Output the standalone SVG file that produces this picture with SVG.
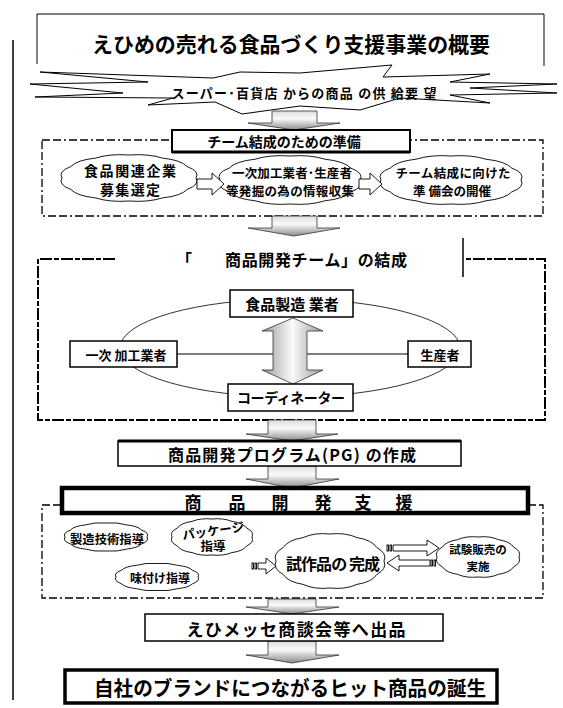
<svg xmlns="http://www.w3.org/2000/svg" width="563" height="708" viewBox="0 0 563 708">
<defs>
<style>
.t{font-family:"Noto Sans CJK JP","Liberation Sans",sans-serif;font-weight:bold;text-anchor:middle;dominant-baseline:central;fill:#000}
.ln{fill:none;stroke:#000;stroke-width:1}
.box{fill:#fff;stroke:#000;stroke-width:1.5}
.cl{fill:#fff;stroke:#000;stroke-width:0.9}
.ga{fill:url(#gv);stroke:#333;stroke-width:0.8}
.ha{fill:#fff;stroke:#000;stroke-width:0.9}
.dd{fill:none;stroke:#000;stroke-width:1.3;stroke-dasharray:8 3 8 3 2 3}
.dt{fill:none;stroke:#000;stroke-width:2;stroke-dasharray:12 2 5 2}
</style>
<linearGradient id="gv" x1="0" y1="0" x2="0" y2="1">
<stop offset="0" stop-color="#dcdcdc"/>
<stop offset="0.4" stop-color="#fafafa"/>
<stop offset="1" stop-color="#8a8a8a"/>
</linearGradient>
<linearGradient id="gh" x1="0" y1="0" x2="1" y2="0">
<stop offset="0" stop-color="#9a9a9a"/>
<stop offset="0.5" stop-color="#fbfbfb"/>
<stop offset="1" stop-color="#9a9a9a"/>
</linearGradient>
</defs>
<rect width="563" height="708" fill="#fff"/>

<line x1="13" y1="40" x2="13" y2="700" stroke="#000" stroke-width="1.5"/>

<g id="title">
<path class="ln" stroke-width="1.5" d="M37,64 V14 H544 V66"/>
<text class="t" x="291" y="43" font-size="21" textLength="398" lengthAdjust="spacingAndGlyphs">えひめの売れる食品づくり支援事業の概要</text>
</g>

<g id="demand">
<polygon fill="#fff" stroke="#000" stroke-width="1" points="40,72 213,78 240,72 300,73 392,65 383,77 490,74 450,82 557,84 470,88 557,93 450,95 490,103 400,98 360,110 300,106 242,114 215,102 148,105 173,98 35,97 123,93 30,84 148,82"/>
<text class="t" x="304" y="92" font-size="13" textLength="265" lengthAdjust="spacing">スーパー･百貨店 からの商品 の供 給要 望</text>
</g>

<g id="frames">
<rect class="dd" x="42" y="140" width="501" height="76"/>
<path class="dt" d="M115,259 H38 V420 H545 V259 H465"/>
<rect class="dd" x="42" y="505" width="501" height="93"/>
</g>

<g id="connectors">
<path class="ga" d="M272,111 H317 V123 H340 L294,130 L248,123 H272 Z"/>
<path class="ga" d="M272,216 H317 V228 H340 L294,236 L248,228 H272 Z"/>
<path class="ga" d="M268,420 H316 V434 H338 L292,441 L246,434 H268 Z"/>
<path class="ga" d="M268,466 H316 V479 H339 L292,488 L246,479 H268 Z"/>
<path class="ga" d="M268,599 H316 V607 H339 L292,614 L246,607 H268 Z"/>
<path class="ga" d="M268,641 H316 V655 H339 L292,663 L246,655 H268 Z"/>
</g>

<g id="prep">
<rect x="172" y="130" width="238" height="22" fill="#fff" stroke="#000" stroke-width="2"/>
<line x1="172" y1="152" x2="410" y2="152" stroke="#000" stroke-width="3"/>
<text class="t" x="284" y="141" font-size="14">チーム結成のための準備</text>
</g>

<g id="cloud-recruit">
<path class="cl" vector-effect="non-scaling-stroke" transform="translate(129,178) scale(67,23)" d="M1,0 Q1.0625,0.2847 0.866,0.5 Q0.7778,0.7778 0.5,0.866 Q0.2847,1.0625 0,1 Q-0.2847,1.0625 -0.5,0.866 Q-0.7778,0.7778 -0.866,0.5 Q-1.0625,0.2847 -1,0 Q-1.0625,-0.2847 -0.866,-0.5 Q-0.7778,-0.7778 -0.5,-0.866 Q-0.2847,-1.0625 0,-1 Q0.2847,-1.0625 0.5,-0.866 Q0.7778,-0.7778 0.866,-0.5 Q1.0625,-0.2847 1,0 Z"/>
<text class="t" x="130" y="170" font-size="14" textLength="92" lengthAdjust="spacing">食品関連企業</text>
<text class="t" x="130" y="189" font-size="14" textLength="60" lengthAdjust="spacing">募集選定</text>
</g>
<g id="cloud-info">
<path class="cl" vector-effect="non-scaling-stroke" transform="translate(290,180) scale(70,24)" d="M1,0 Q1.0625,0.2847 0.866,0.5 Q0.7778,0.7778 0.5,0.866 Q0.2847,1.0625 0,1 Q-0.2847,1.0625 -0.5,0.866 Q-0.7778,0.7778 -0.866,0.5 Q-1.0625,0.2847 -1,0 Q-1.0625,-0.2847 -0.866,-0.5 Q-0.7778,-0.7778 -0.5,-0.866 Q-0.2847,-1.0625 0,-1 Q0.2847,-1.0625 0.5,-0.866 Q0.7778,-0.7778 0.866,-0.5 Q1.0625,-0.2847 1,0 Z"/>
<text class="t" x="292" y="172" font-size="12.5" textLength="120" lengthAdjust="spacing">一次加工業者･生産者</text>
<text class="t" x="290" y="190" font-size="12.5" textLength="128" lengthAdjust="spacing">等発掘の為の情報収集</text>
</g>
<g id="cloud-meeting">
<path class="cl" vector-effect="non-scaling-stroke" transform="translate(451,180) scale(70,24)" d="M1,0 Q1.0625,0.2847 0.866,0.5 Q0.7778,0.7778 0.5,0.866 Q0.2847,1.0625 0,1 Q-0.2847,1.0625 -0.5,0.866 Q-0.7778,0.7778 -0.866,0.5 Q-1.0625,0.2847 -1,0 Q-1.0625,-0.2847 -0.866,-0.5 Q-0.7778,-0.7778 -0.5,-0.866 Q-0.2847,-1.0625 0,-1 Q0.2847,-1.0625 0.5,-0.866 Q0.7778,-0.7778 0.866,-0.5 Q1.0625,-0.2847 1,0 Z"/>
<text class="t" x="453" y="172" font-size="12.5" textLength="115" lengthAdjust="spacing">チーム結成に向けた</text>
<text class="t" x="452" y="190" font-size="12.5">準 備会の開催</text>
</g>
<g id="prep-arrows">
<path class="ha" d="M197,179 H212 V173 L224,184 L212,195 V189 H197 Z"/>
<path class="ha" d="M359,179 H370 V173 L382,184 L370,195 V189 H359 Z"/>
</g>

<g id="team-heading">
<text class="t" font-size="16" y="259"><tspan x="184">「</tspan><tspan x="316" textLength="182" lengthAdjust="spacing">商品開発チーム」の結成</tspan></text>
<line x1="463" y1="238" x2="463" y2="277" stroke="#000" stroke-width="1.5"/>
</g>
<g id="team-ring">
<ellipse cx="290" cy="348" rx="170" ry="49" fill="none" stroke="#000" stroke-width="0.8"/>
<line x1="177" y1="354" x2="408" y2="354" stroke="#000" stroke-width="1"/>
<path d="M293,318 L323,331 H307 V370 H323 L293,384 L262,370 H273 V331 H262 Z" fill="url(#gh)" stroke="#333" stroke-width="0.8"/>
</g>
<g id="maker">
<rect class="box" x="230" y="290" width="123" height="27" stroke-width="1"/>
<text class="t" x="292" y="303" font-size="15">食品製造 業者</text>
</g>
<g id="processor">
<rect class="box" x="70" y="341" width="107" height="26" stroke-width="1"/>
<text class="t" x="126" y="354" font-size="13">一次 加工業者</text>
</g>
<g id="producer">
<rect class="box" x="408" y="341" width="63" height="26" stroke-width="1"/>
<text class="t" x="440" y="354" font-size="13">生産者</text>
</g>
<g id="coordinator">
<rect class="box" x="228" y="384" width="125" height="27" stroke-width="1"/>
<text class="t" x="291" y="397" font-size="14" textLength="108" lengthAdjust="spacing">コーディネーター</text>
</g>

<g id="program">
<rect class="box" x="118" y="441" width="343" height="25"/>
<line x1="118" y1="441" x2="461" y2="441" stroke="#000" stroke-width="3"/>
<text class="t" x="292" y="454" font-size="16" textLength="248" lengthAdjust="spacing">商品開発プログラム(PG) の作成</text>
</g>

<g id="support">
<rect x="62" y="488" width="466" height="25" fill="#fff" stroke="#000" stroke-width="4.5"/>
<text class="t" font-size="17" y="501" style="text-anchor:start"><tspan x="184.5">商</tspan><tspan x="228.5">品</tspan><tspan x="271.5">開</tspan><tspan x="314.5">発</tspan><tspan x="354.5">支</tspan><tspan x="395.5">援</tspan></text>
</g>
<g id="tech">
<path class="cl" vector-effect="non-scaling-stroke" transform="translate(106,537) scale(41,14)" d="M1,0 Q1.0625,0.2847 0.866,0.5 Q0.7778,0.7778 0.5,0.866 Q0.2847,1.0625 0,1 Q-0.2847,1.0625 -0.5,0.866 Q-0.7778,0.7778 -0.866,0.5 Q-1.0625,0.2847 -1,0 Q-1.0625,-0.2847 -0.866,-0.5 Q-0.7778,-0.7778 -0.5,-0.866 Q-0.2847,-1.0625 0,-1 Q0.2847,-1.0625 0.5,-0.866 Q0.7778,-0.7778 0.866,-0.5 Q1.0625,-0.2847 1,0 Z"/>
<text class="t" x="107" y="538" font-size="12" textLength="74" lengthAdjust="spacingAndGlyphs">製造技術指導</text>
</g>
<g id="package">
<path class="cl" vector-effect="non-scaling-stroke" transform="translate(212,537) scale(40,18)" d="M1,0 Q1.0625,0.2847 0.866,0.5 Q0.7778,0.7778 0.5,0.866 Q0.2847,1.0625 0,1 Q-0.2847,1.0625 -0.5,0.866 Q-0.7778,0.7778 -0.866,0.5 Q-1.0625,0.2847 -1,0 Q-1.0625,-0.2847 -0.866,-0.5 Q-0.7778,-0.7778 -0.5,-0.866 Q-0.2847,-1.0625 0,-1 Q0.2847,-1.0625 0.5,-0.866 Q0.7778,-0.7778 0.866,-0.5 Q1.0625,-0.2847 1,0 Z"/>
<text class="t" x="213" y="530" font-size="12.5" transform="rotate(-8 213 530)">パッケージ</text>
<text class="t" x="213" y="545" font-size="12.5">指導</text>
</g>
<g id="flavor">
<path class="cl" vector-effect="non-scaling-stroke" transform="translate(157,577) scale(41,13.5)" d="M1,0 Q1.0625,0.2847 0.866,0.5 Q0.7778,0.7778 0.5,0.866 Q0.2847,1.0625 0,1 Q-0.2847,1.0625 -0.5,0.866 Q-0.7778,0.7778 -0.866,0.5 Q-1.0625,0.2847 -1,0 Q-1.0625,-0.2847 -0.866,-0.5 Q-0.7778,-0.7778 -0.5,-0.866 Q-0.2847,-1.0625 0,-1 Q0.2847,-1.0625 0.5,-0.866 Q0.7778,-0.7778 0.866,-0.5 Q1.0625,-0.2847 1,0 Z"/>
<text class="t" x="160" y="577" font-size="12">味付け指導</text>
</g>
<g id="prototype">
<path class="cl" vector-effect="non-scaling-stroke" transform="translate(330,561) scale(54,27)" d="M1,0 Q1.0625,0.2847 0.866,0.5 Q0.7778,0.7778 0.5,0.866 Q0.2847,1.0625 0,1 Q-0.2847,1.0625 -0.5,0.866 Q-0.7778,0.7778 -0.866,0.5 Q-1.0625,0.2847 -1,0 Q-1.0625,-0.2847 -0.866,-0.5 Q-0.7778,-0.7778 -0.5,-0.866 Q-0.2847,-1.0625 0,-1 Q0.2847,-1.0625 0.5,-0.866 Q0.7778,-0.7778 0.866,-0.5 Q1.0625,-0.2847 1,0 Z"/>
<text class="t" x="333" y="563" font-size="16" textLength="94" lengthAdjust="spacing">試作品の 完成</text>
</g>
<g id="testsale">
<path class="cl" vector-effect="non-scaling-stroke" transform="translate(478,557) scale(41,20)" d="M1,0 Q1.0625,0.2847 0.866,0.5 Q0.7778,0.7778 0.5,0.866 Q0.2847,1.0625 0,1 Q-0.2847,1.0625 -0.5,0.866 Q-0.7778,0.7778 -0.866,0.5 Q-1.0625,0.2847 -1,0 Q-1.0625,-0.2847 -0.866,-0.5 Q-0.7778,-0.7778 -0.5,-0.866 Q-0.2847,-1.0625 0,-1 Q0.2847,-1.0625 0.5,-0.866 Q0.7778,-0.7778 0.866,-0.5 Q1.0625,-0.2847 1,0 Z"/>
<text class="t" x="478" y="549" font-size="11.5">試験販売の</text>
<text class="t" x="478" y="566" font-size="11.5">実施</text>
</g>
<g id="support-arrows">
<rect class="ha" x="252" y="563" width="1.5" height="6"/>
<rect class="ha" x="255" y="563" width="1.5" height="6"/>
<path class="ha" d="M258,563 H266 V558 L276,566 L266,574 V569 H258 Z"/>
<rect class="ha" x="387" y="545" width="1.5" height="6"/>
<rect class="ha" x="390" y="545" width="1.5" height="6"/>
<path class="ha" d="M393,545 H427 V540 L439,548 L427,556 V551 H393 Z"/>
<rect class="ha" x="431" y="560" width="1.5" height="6"/>
<rect class="ha" x="434" y="560" width="1.5" height="6"/>
<path class="ha" d="M430,560 H399 V555 L387,563 L399,571 V566 H430 Z"/>
</g>

<g id="exhibit">
<rect class="box" x="145" y="614" width="298" height="27" stroke-width="2"/>
<text class="t" x="296" y="628" font-size="17" textLength="219" lengthAdjust="spacing">えひメッセ商談会等へ出品</text>
</g>

<g id="result">
<rect x="65" y="670" width="432" height="33" fill="#fff" stroke="#000" stroke-width="3.5"/>
<text class="t" x="290" y="687" font-size="20" textLength="392" lengthAdjust="spacingAndGlyphs">自社のブランドにつながるヒット商品の誕生</text>
</g>
</svg>
